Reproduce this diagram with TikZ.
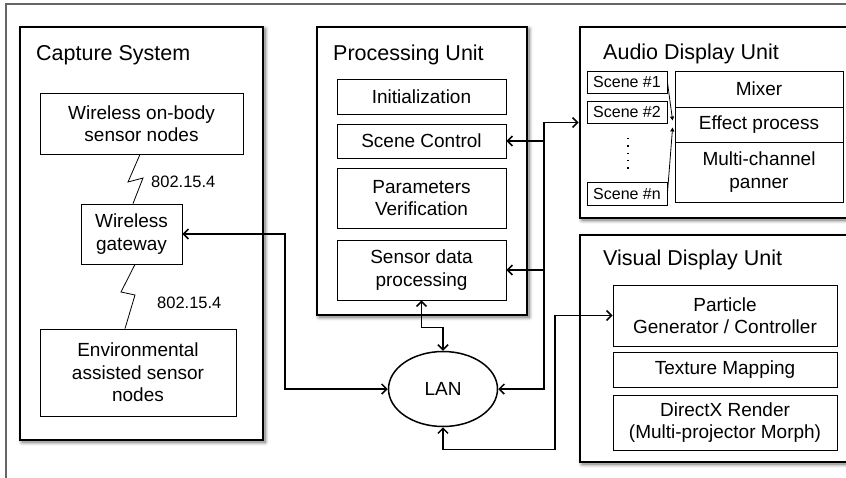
\documentclass[tikz,border=0pt]{standalone}
\usepackage{fontspec}
\setmainfont{Liberation Sans}
\usetikzlibrary{arrows.meta,shadows.blur,calc,shapes.geometric}

\newcommand\bodyfont{\fontsize{19}{22.5}\selectfont}
\newcommand\titlefont{\fontsize{21.5}{25}\selectfont}
\newcommand\smallbodyfont{\fontsize{16}{19}\selectfont}
\newcommand\linkfont{\fontsize{16.5}{19}\selectfont}

\begin{document}
\begin{tikzpicture}[x=1pt,y=-1pt,
  group/.style={draw, line width=2.8pt, fill=white, inner sep=0pt,
    blur shadow={shadow xshift=2pt, shadow yshift=-2pt,
      shadow blur radius=4pt, shadow blur steps=8, shadow opacity=60}},
  box/.style={draw, line width=0.8pt, fill=white, inner sep=0pt,
    align=center, font=\bodyfont},
  scenebox/.style={box, font=\smallbodyfont, minimum width=80, minimum height=22},
  title/.style={anchor=base west, inner sep=0pt, font=\titlefont},
  link/.style={line width=1.5pt, {Straight Barb[length=5pt,width=10pt]}-{Straight Barb[length=5pt,width=10pt]}},
  onelink/.style={line width=1.5pt, -{Straight Barb[length=5pt,width=10pt]}},
  mixlink/.style={line width=0.8pt, -{Triangle[length=4pt,width=4pt]}},
  radio/.style={line width=0.8pt},
  radiolabel/.style={anchor=west, inner sep=0pt, font=\linkfont}]

\useasboundingbox (0,0) rectangle (846,477);

% outer frame (only its top and left edges fall on the page)
\draw[line width=1.2pt, black!60] (6,490) -- (6,4) -- (860,4);

% ---- group containers ----
\node[group, minimum width=243, minimum height=413] (cap) at (141.5,233.5) {};
\node[group, minimum width=210, minimum height=288] (proc) at (422,171) {};
\node[group, minimum width=290, minimum height=191] (audio) at (725,122.5) {};
\node[group, minimum width=290, minimum height=227] (visual) at (725,348.5) {};

\node[title] (captitle) at (36,60) {Capture System};
\node[title] (proctitle) at (333,60) {Processing Unit};
\node[title] (audiotitle) at (603,59) {Audio Display Unit};
\node[title] (visualtitle) at (603,265) {Visual Display Unit};

% ---- capture system ----
\node[box, minimum width=203, minimum height=61] (onbody) at (141.5,123.5)
  {Wireless on-body\\sensor nodes};
\node[box, minimum width=101, minimum height=60] (gw) at (131.5,234)
  {Wireless\\gateway};
\node[box, minimum width=196, minimum height=87] (env) at (138,372.5)
  {Environmental\\assisted sensor\\nodes};

\coordinate (z1a) at (128,182);
\coordinate (z1b) at (143,178);
\coordinate (z2a) at (121,292);
\coordinate (z2b) at (135,295);
\draw[radio] (onbody.south -| 140,0) -- (z1a) -- (z1b) -- (gw.north -| 133,0);
\draw[radio] (gw.south -| 135,0) -- (z2a) -- (z2b) -- (env.north -| 125,0);
\node[radiolabel] (r1) at (151,182) {802.15.4};
\node[radiolabel] (r2) at (157,303) {802.15.4};

% ---- processing unit ----
\node[box, minimum width=169, minimum height=35] (init) at (421.5,96.5) {Initialization};
\node[box, minimum width=169, minimum height=34] (sc) at (421.5,141) {Scene Control};
\node[box, minimum width=169, minimum height=60] (pv) at (421.5,198) {Parameters\\Verification};
\node[box, minimum width=169, minimum height=60] (sd) at (421.5,270) {Sensor data\\processing};

% ---- audio display unit ----
\node[scenebox] (s1) at (627,82) {Scene \#1};
\node[scenebox] (s2) at (627,112) {Scene \#2};
\node[scenebox, minimum height=23] (sn) at (627,193.5) {Scene \#n};
\draw[line width=1.3pt, dash pattern=on 1.3pt off 6pt] (628,138) -- (628,172);

\node[box, minimum width=168, minimum height=36] (mix) at (759,89) {Mixer};
\node[box, minimum width=168, minimum height=35] (fx) at (759,124.5) {Effect process};
\node[box, minimum width=168, minimum height=60] (pan) at (759,172) {Multi-channel\\panner};

\draw[mixlink] (s1.east) -- ($(fx.west)+(-2,-4)$);
\draw[mixlink] (sn.east) -- ($(fx.west)+(-2,3)$);

% ---- visual display unit ----
\node[box, minimum width=224, minimum height=61] (pg) at (725,315.5)
  {Particle\\Generator / Controller};
\node[box, minimum width=224, minimum height=35] (tex) at (725,369.5) {Texture Mapping};
\node[box, minimum width=224, minimum height=55] (dx) at (725,422.5)
  {DirectX Render\\(Multi-projector Morph)};

% ---- network ----
\node[ellipse, draw, line width=1.5pt, fill=white, minimum width=109,
  minimum height=75, inner sep=0pt, font=\bodyfont] (lan) at (443,389) {LAN};

\coordinate (busx) at (544,0);
\coordinate (leftx) at (285,0);
\coordinate (visx) at (555,0);

\draw[link] (gw.east) -- (gw.east -| leftx) |- (lan.west);
\draw[link] (lan.east) -| (busx |- audio.west) -- (audio.west);
\draw[onelink] (busx |- sc.east) -- (sc.east);
\draw[onelink] (busx |- sd.east) -- (sd.east);
\draw[link] (sd.south) -- ++(0,27) -| (lan.north);
\draw[link] (lan.south) -- ++(0,22) -| (visx |- pg.west) -- (pg.west);

\end{tikzpicture}
\end{document}
